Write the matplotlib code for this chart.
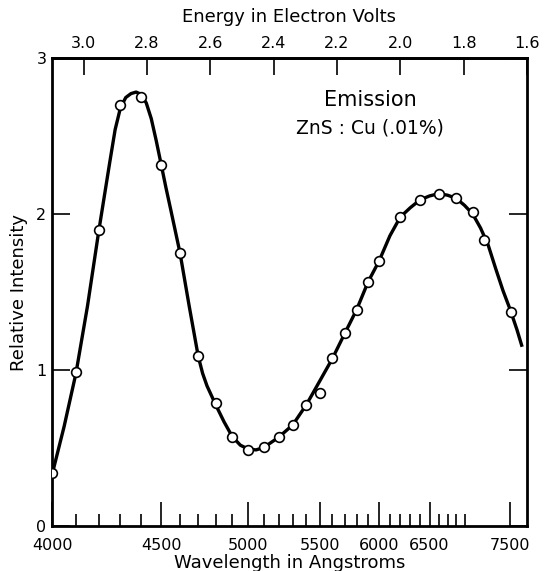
import numpy as np
import matplotlib
matplotlib.use('Agg')
import matplotlib.pyplot as plt

# 波長 (Å) 與相對強度：量測點
wl_pts = [4000, 4100, 4200, 4300, 4400, 4500, 4600, 4700, 4800, 4900,
          5000, 5100, 5200, 5300, 5400, 5500, 5600, 5700, 5800, 5900,
          6000, 6200, 6400, 6600, 6800, 7000, 7150, 7520]
int_pts = [0.34, 0.99, 1.90, 2.70, 2.75, 2.31, 1.75, 1.09, 0.79, 0.57,
           0.49, 0.51, 0.575, 0.65, 0.78, 0.854, 1.075, 1.235, 1.387, 1.565,
           1.70, 1.98, 2.09, 2.125, 2.10, 2.01, 1.83, 1.37]

# 手繪平滑曲線讀值
wl_curve = [4000, 4050, 4100, 4150, 4200, 4250, 4275, 4300, 4325, 4350,
            4375, 4400, 4425, 4450, 4475, 4500, 4525, 4550, 4600, 4650,
            4700, 4725, 4750, 4800, 4850, 4900, 4950, 5000, 5050, 5100,
            5200, 5300, 5400, 5500, 5600, 5700, 5800, 5900, 6000, 6100,
            6200, 6300, 6400, 6500, 6600, 6700, 6800, 6900, 7000, 7100,
            7200, 7300, 7400, 7500, 7600, 7670]
int_curve = [0.33, 0.64, 0.98, 1.41, 1.89, 2.33, 2.54, 2.68, 2.745, 2.77,
             2.78, 2.765, 2.71, 2.61, 2.47, 2.32, 2.17, 2.03, 1.75, 1.41,
             1.09, 0.98, 0.90, 0.78, 0.67, 0.575, 0.52, 0.495, 0.49, 0.505,
             0.57, 0.65, 0.78, 0.93, 1.075, 1.235, 1.387, 1.565, 1.70, 1.86,
             1.98, 2.04, 2.09, 2.115, 2.13, 2.12, 2.10, 2.055, 2.00, 1.91,
             1.80, 1.65, 1.51, 1.39, 1.26, 1.16]

ev_ticks = [3.0, 2.8, 2.6, 2.4, 2.2, 2.0, 1.8, 1.6]
wl_major = [4000, 4500, 5000, 5500, 6000, 6500, 7500]
wl_minor = [w for w in range(4100, 7001, 100) if w % 500 != 0]

hc = 12400.0  # eV·Å

fig = plt.figure(figsize=(5.44, 5.71), dpi=100)
ax = fig.add_axes([0.0956, 0.078, 0.873, 0.821])

ax.plot(hc / np.array(wl_curve), int_curve, color='black', lw=2.4,
        solid_joinstyle='round', zorder=2)
ax.plot(hc / np.array(wl_pts), int_pts, 'o', ms=7, mfc='white', mec='black',
        mew=1.2, zorder=3)

ax.set_xlim(hc / 4000, 1.6)
ax.set_ylim(0, 3)

# 下方：波長刻度
ax.set_xticks(hc / np.array(wl_major))
ax.set_xticklabels([str(w) for w in wl_major])
ax.set_xticks(hc / np.array(wl_minor), minor=True)
ax.tick_params(axis='x', which='major', direction='in', length=17, width=1.2,
               labelsize=11.5, pad=8)
ax.tick_params(axis='x', which='minor', direction='in', length=9, width=1.2)

# 左右：強度刻度
ax.set_yticks([0, 1, 2, 3])
ax.set_yticklabels(['0', '1', '2', '3'])
ax.tick_params(axis='y', direction='in', length=13, width=1.2, labelsize=11.5,
               right=True, pad=4)

# 上方：能量刻度
top = ax.secondary_xaxis('top')
top.set_xticks(ev_ticks)
top.set_xticklabels(['%.1f' % e for e in ev_ticks])
top.tick_params(direction='in', length=12, width=1.2, labelsize=11.5, pad=5)
top.set_xlabel('Energy in Electron Volts', fontsize=13, labelpad=10)

for s in ax.spines.values():
    s.set_linewidth(2)
top.spines['top'].set_linewidth(2)

ax.set_xlabel('Wavelength in Angstroms', fontsize=13, labelpad=1)
ax.set_ylabel('Relative Intensity', fontsize=13, labelpad=6)

ax.text(0.67, 0.91, 'Emission', transform=ax.transAxes, ha='center',
        va='center', fontsize=15)
ax.text(0.67, 0.85, 'ZnS : Cu (.01%)', transform=ax.transAxes, ha='center',
        va='center', fontsize=13.5)

fig.savefig('out.png', dpi=100)
